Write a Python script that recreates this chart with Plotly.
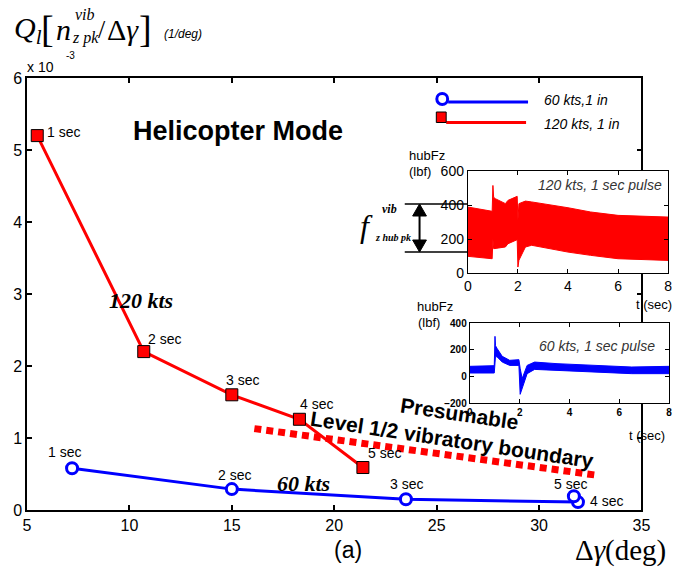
import plotly.graph_objects as go

# ---------------- data ----------------
sec_labels = ["1 sec", "2 sec", "3 sec", "4 sec", "5 sec"]

red_dgamma = [5.5, 10.7, 15.0, 18.3, 21.4]       # 120 kts, 1 in
red_q = [5.2, 2.2, 1.6, 1.26, 0.59]

blue_dgamma = [7.2, 15.0, 23.5, 31.9, 31.7]      # 60 kts, 1 in
blue_q = [0.58, 0.29, 0.15, 0.11, 0.19]

boundary_dgamma = [16.1, 32.9]                   # presumable level 1/2 boundary
boundary_q = [1.13, 0.48]

x_ticks = [5, 10, 15, 20, 25, 30, 35]
y_ticks = [0, 1, 2, 3, 4, 5, 6]

# inset 1: 120 kts hubFz envelope (lbf)
red_t = [0, 0.97, 1.0, 1.03, 1.1, 1.5, 1.6, 1.97, 2.0, 2.04, 2.3, 2.55, 4.0, 4.9, 6.0, 8.0]
red_hi = [388, 363, 515, 445, 437, 408, 427, 451, 310, 408, 423, 418, 384, 359, 339, 329]
red_lo = [98, 84, 202, 143, 143, 153, 172, 196, 35, 75, 153, 163, 123, 104, 84, 74]

# inset 2: 60 kts hubFz envelope (lbf)
blue_t = [0, 0.98, 1.01, 1.03, 1.1, 1.3, 1.6, 1.97, 2.02, 2.1, 2.3, 2.6, 3.5, 5.0, 6.5, 8.0]
blue_hi = [75, 80, 300, 230, 207, 150, 120, 125, 60, -17, 82, 107, 95, 82, 70, 75]
blue_lo = [25, 25, 60, 150, 145, 107, 82, 82, -135, -80, 20, 52, 45, 32, 20, 20]

# ---------------- layout helpers ----------------
W, H = 694, 568
L, R, T, B = 27, 10, 78, 58
PW, PH = W - L - R, H - T - B


def px(v):
    return (v - L) / PW


def py(v):
    return (H - B - v) / PH


SANS = "Liberation Sans, Arial, sans-serif"
SERIF = "Liberation Serif, Times New Roman, serif"

fig = go.Figure()

# boundary dotted line
fig.add_trace(go.Scatter(x=boundary_dgamma, y=boundary_q, mode="lines",
                         line=dict(color="#ff0000", width=7, dash="7px,5px"),
                         hoverinfo="skip"))
# 120 kts
fig.add_trace(go.Scatter(x=red_dgamma, y=red_q, mode="lines+markers",
                         line=dict(color="#ff0000", width=3),
                         marker=dict(symbol="square", size=12, color="#ff0000",
                                     line=dict(color="black", width=1))))
# 60 kts
fig.add_trace(go.Scatter(x=blue_dgamma, y=blue_q, mode="lines+markers",
                         line=dict(color="#0000ff", width=3),
                         marker=dict(symbol="circle", size=11, color="white",
                                     line=dict(color="#0000ff", width=3))))

# inset envelopes
fig.add_trace(go.Scatter(x=red_t + red_t[::-1], y=red_hi + red_lo[::-1],
                         fill="toself", fillcolor="#ff0000", mode="lines",
                         line=dict(color="#ff0000", width=1),
                         xaxis="x2", yaxis="y2"))
fig.add_trace(go.Scatter(x=blue_t + blue_t[::-1], y=blue_hi + blue_lo[::-1],
                         fill="toself", fillcolor="#0000ff", mode="lines",
                         line=dict(color="#0000ff", width=1),
                         xaxis="x3", yaxis="y3"))

ann = []

# point labels
red_off = [(8, 4, "left"), (2, 13, "left"), (11, 15, "center"), (17, 15, "center"), (22, 15, "center")]
blue_off = [(-8, 16, "center"), (3, 14, "center"), (1, 15, "center"), (10, 1, "left"), (-3, 12, "center")]
for xs, ys, offs in ((red_dgamma, red_q, red_off), (blue_dgamma, blue_q, blue_off)):
    for xv, yv, lab, (dx, dy, xa) in zip(xs, ys, sec_labels, offs):
        ann.append(dict(x=xv, y=yv, xref="x", yref="y", text=lab, showarrow=False,
                        xanchor=xa, yanchor="middle", xshift=dx, yshift=dy,
                        font=dict(family=SANS, size=14, color="black")))


def txt(x, y, text, size, family=SANS, xa="center", angle=0, color="black"):
    ann.append(dict(x=px(x), y=py(y), xref="paper", yref="paper", text=text,
                    showarrow=False, xanchor=xa, yanchor="middle", textangle=angle,
                    font=dict(family=family, size=size, color=color)))


txt(241, 131, "<b>Helicopter Mode</b>", 27)
txt(143, 300, "<b><i>120 kts</i></b>", 22, SERIF)
txt(307, 483, "<b><i>60 kts</i></b>", 22, SERIF)
txt(465, 413, "<b>Presumable</b>", 21, angle=8.5)
txt(458, 439, "<b>Level 1/2 vibratory boundary</b>", 21, angle=8.6)

# y-axis title pieces
txt(12, 30, "<i>Q<sub>l</sub></i>", 30, SERIF, xa="left")
txt(48, 29, "[", 38, SERIF)
txt(64, 30, "<i>n</i>", 30, SERIF)
txt(86, 14, "<i>vib</i>", 16, SERIF)
txt(86, 38, "<i>z pk</i>", 16, SERIF)
txt(103, 30, "/", 26, SERIF)
txt(124, 30, "Δ<i>γ</i>", 30, SERIF)
txt(147, 29, "]", 38, SERIF)
txt(164, 34, "<i>(1/deg)</i>", 12, xa="left")
txt(25, 67, "x 10", 14, xa="left")
txt(65, 55, "-3", 10, xa="left")

# x-axis title
txt(352, 550, "(a)", 23)
txt(581, 550, "Δ<i>γ</i>(deg)", 29, SERIF, xa="left")

# legend text
txt(549, 100, "<i>60 kts,1 in</i>", 14, xa="left")
txt(549, 124, "<i>120 kts, 1 in</i>", 14, xa="left")

# inset texts
txt(673, 185, "<i>120 kts, 1 sec pulse</i>", 14, xa="right", color="#333333")
txt(666, 346, "<i>60 kts, 1 sec pulse</i>", 14, xa="right", color="#333333")
txt(412, 155, "hubFz", 13, xa="left")
txt(412, 171, "(lbf)", 13, xa="left")
txt(420, 306, "hubFz", 13, xa="left")
txt(421, 322, "(lbf)", 13, xa="left")
txt(642, 304, "t (sec)", 13, xa="left")
txt(635, 435, "t (sec)", 13, xa="left")

# f vib annotation
txt(371, 226, "<i>f</i>", 32, SERIF)
txt(395, 209, "<b><i>vib</i></b>", 12, SERIF)
txt(398, 237, "<b><i>z hub pk</i></b>", 10, SERIF)

shapes = []


def pline(x0, y0, x1, y1, color="black", width=1.5):
    shapes.append(dict(type="line", xref="paper", yref="paper", x0=px(x0), y0=py(y0),
                       x1=px(x1), y1=py(y1), line=dict(color=color, width=width)))


pline(410, 204, 474, 204)
pline(410, 252, 474, 252)
pline(425, 212, 425, 244, width=2)
shapes.append(dict(type="path", xref="paper", yref="paper",
                   path=f"M {px(425)} {py(204)} L {px(418)} {py(216)} L {px(432)} {py(216)} Z",
                   fillcolor="black", line=dict(color="black", width=1)))
shapes.append(dict(type="path", xref="paper", yref="paper",
                   path=f"M {px(425)} {py(252)} L {px(418)} {py(240)} L {px(432)} {py(240)} Z",
                   fillcolor="black", line=dict(color="black", width=1)))

# legend symbols
pline(454, 102, 535, 102, color="#0000ff", width=3)
shapes.append(dict(type="circle", xref="paper", yref="paper", x0=px(442.5), x1=px(453.5),
                   y0=py(104.5), y1=py(93.5), fillcolor="white",
                   line=dict(color="#0000ff", width=3)))
pline(452, 122.5, 533, 122.5, color="#ff0000", width=3)
shapes.append(dict(type="rect", xref="paper", yref="paper", x0=px(442), x1=px(452),
                   y0=py(122.5), y1=py(112), fillcolor="#ff0000",
                   line=dict(color="black", width=1)))

axis_common = dict(ticks="inside", mirror="ticks", showline=True, linecolor="black",
                   showgrid=False, zeroline=False, tickcolor="black")

fig.update_layout(
    width=W, height=H, autosize=False,
    margin=dict(l=L, r=R, t=T, b=B, pad=0),
    paper_bgcolor="white", plot_bgcolor="white",
    showlegend=False,
    annotations=ann, shapes=shapes,
    xaxis=dict(domain=[0, px(650)], range=[5, 35], tickvals=x_ticks, anchor="y",
               ticklen=5, linewidth=1.5, tickwidth=1.5,
               tickfont=dict(family=SANS, size=16, color="black"), **axis_common),
    yaxis=dict(domain=[0, 1], range=[0, 6], tickvals=y_ticks, anchor="x",
               ticklen=5, linewidth=1.5, tickwidth=1.5,
               tickfont=dict(family=SANS, size=16, color="black"), **axis_common),
    xaxis2=dict(domain=[px(474), px(677)], range=[0, 8], dtick=2, anchor="y2",
                ticklen=4, linewidth=1.2,
                tickfont=dict(family=SANS, size=14, color="black"), **axis_common),
    yaxis2=dict(domain=[py(273), py(171)], range=[0, 600], dtick=200, anchor="x2",
                ticklen=4, linewidth=1.2,
                tickfont=dict(family=SANS, size=14, color="black"), **axis_common),
    xaxis3=dict(domain=[px(476), px(678)], range=[0, 8], dtick=2, anchor="y3",
                ticklen=4, linewidth=1.2,
                tickfont=dict(family=SANS, size=10, color="black"),
                tickprefix="<b>", ticksuffix="</b>", **axis_common),
    yaxis3=dict(domain=[py(403), py(323)], range=[-200, 400], dtick=200, anchor="x3",
                ticklen=4, linewidth=1.2,
                tickfont=dict(family=SANS, size=10, color="black"),
                tickprefix="<b>", ticksuffix="</b>", **axis_common),
)

fig.write_html("out.html")
